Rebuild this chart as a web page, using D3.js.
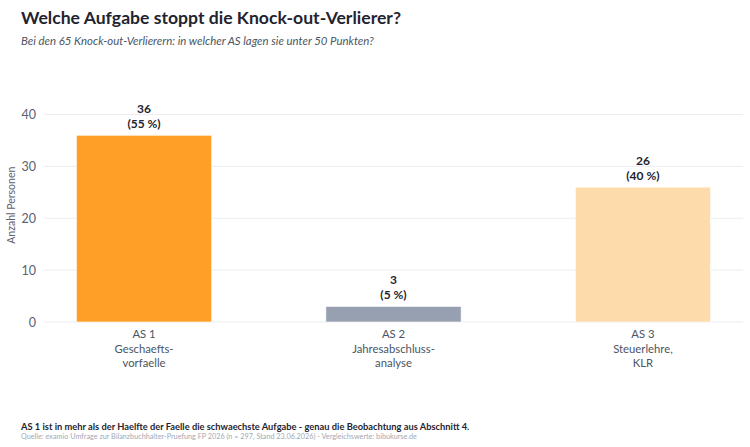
<!DOCTYPE html>
<html><head><meta charset="utf-8">
<script src="https://cdn.jsdelivr.net/npm/d3@7"></script>
<style>body{margin:0;background:#fff;font-family:Lato,"Noto Sans",sans-serif;}</style>
</head><body><svg id="c" width="750" height="447"></svg>
<script>
const categories = ["AS 1|Geschaefts-|vorfaelle", "AS 2|Jahresabschluss-|analyse", "AS 3|Steuerlehre,|KLR"];
const counts = [36, 3, 26];
const percents = ["55 %", "5 %", "40 %"];
const colors = ["#FF9F27", "#97A0B0", "#FDDBAA"];
const yTicks = [0, 10, 20, 30, 40];

const svg = d3.select("#c");
const m = {left: 44, right: 743, top: 114.5, bottom: 322};
const x = d3.scaleBand().domain(categories).range([m.left, m.right]).paddingInner(0.458).paddingOuter(0.13);
const y = d3.scaleLinear().domain([0, 40]).range([m.bottom, m.top]);

svg.append("text").attr("x", 21).attr("y", 24).attr("font-size", 17.6).attr("font-weight", 700).attr("fill", "#1f2430").text("Welche Aufgabe stoppt die Knock-out-Verlierer?");
svg.append("text").attr("x", 21).attr("y", 45).attr("font-size", 11.4).attr("font-style", "italic").attr("fill", "#4b5563").text("Bei den 65 Knock-out-Verlierern: in welcher AS lagen sie unter 50 Punkten?");

// grid
svg.append("g").selectAll("line").data(yTicks).join("line")
  .attr("x1", m.left).attr("x2", m.right).attr("y1", d => y(d)).attr("y2", d => y(d))
  .attr("stroke", "#ebedf0").attr("stroke-width", 1);
svg.append("g").selectAll("text").data(yTicks).join("text")
  .attr("x", 36).attr("y", d => y(d) + 4.5).attr("text-anchor", "end").attr("font-size", 12.5).attr("fill", "#5b6270").text(d => d);
svg.append("text").attr("transform", `translate(15,${(m.top + m.bottom) / 2 - 13}) rotate(-90)`).attr("text-anchor", "middle").attr("font-size", 10.5).attr("fill", "#5b6270").text("Anzahl Personen");

// bars
svg.append("g").selectAll("rect").data(categories).join("rect")
  .attr("x", d => x(d)).attr("width", x.bandwidth())
  .attr("y", (d, i) => y(counts[i])).attr("height", (d, i) => y(0) - y(counts[i]))
  .attr("fill", (d, i) => colors[i]).attr("stroke", "#fff").attr("stroke-width", 0.6);

// value labels
const vl = svg.append("g");
categories.forEach((c, i) => {
  const cx = x(c) + x.bandwidth() / 2;
  vl.append("text").attr("x", cx).attr("y", y(counts[i]) - 22).attr("text-anchor", "middle").attr("font-size", 12).attr("font-weight", 700).attr("fill", "#1f2430").text(counts[i]);
  vl.append("text").attr("x", cx).attr("y", y(counts[i]) - 7).attr("text-anchor", "middle").attr("font-size", 12).attr("font-weight", 700).attr("fill", "#1f2430").text("(" + percents[i] + ")");
  c.split("|").forEach((line, j) => {
    vl.append("text").attr("x", cx).attr("y", 338 + j * 14.5).attr("text-anchor", "middle").attr("font-size", 11.3).attr("fill", "#4b5563").text(line);
  });
});

svg.append("text").attr("x", 21).attr("y", 430).attr("font-size", 9.3).attr("font-weight", 700).attr("fill", "#1f2430").text("AS 1 ist in mehr als der Haelfte der Faelle die schwaechste Aufgabe - genau die Beobachtung aus Abschnitt 4.");
svg.append("text").attr("x", 21).attr("y", 439).attr("font-size", 7.25).attr("fill", "#a3a9b3").text("Quelle: examio Umfrage zur Bilanzbuchhalter-Pruefung FP 2026 (n = 297, Stand 23.06.2026) - Vergleichswerte: bibukurse.de");
</script></body></html>
